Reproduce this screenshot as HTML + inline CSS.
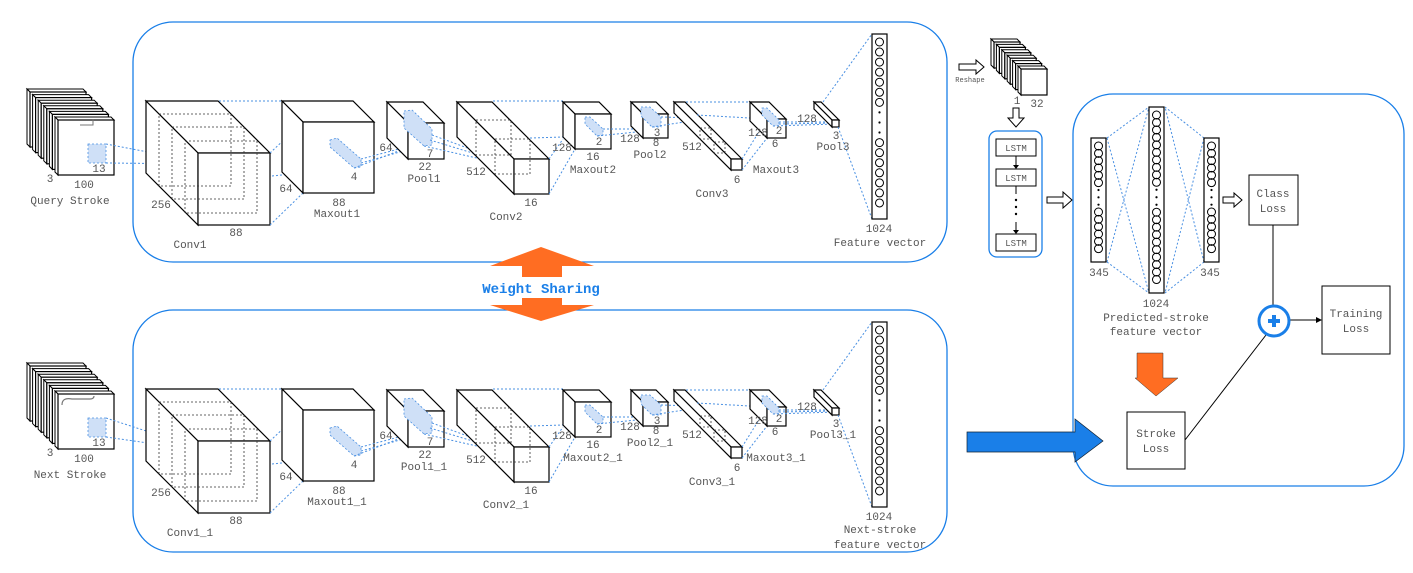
<!DOCTYPE html>
<html><head><meta charset="utf-8"><style>
html,body{margin:0;padding:0;background:#fff;}
svg text{font-family:"Liberation Mono",monospace;font-size:11px;fill:#555;}
</style></head><body>
<svg id="s" xmlns="http://www.w3.org/2000/svg" width="1413" height="568" viewBox="0 0 1413 568">
<rect width="1413" height="568" fill="#fff"/>
<g fill="none" stroke="#1a7fe8" stroke-width="1.3">
<rect x="133" y="22" width="814" height="240" rx="40"/>
<rect x="133" y="310" width="814" height="242" rx="40"/>
<rect x="1073" y="94" width="331" height="392" rx="40"/>
<rect x="989" y="131" width="53" height="126" rx="8"/>
</g>
<polygon points="541,247 594,266 562,266 562,277 522,277 522,266 490,266" fill="#ff6d22"/>
<polygon points="541,321 594,305 562,305 562,298 522,298 522,305 490,305" fill="#ff6d22"/>
<text x="541" y="293" text-anchor="middle" style="font-size:14px;font-weight:bold;fill:#1a7fe8">Weight Sharing</text>
<g id="dyn"></g>
<polygon points="959,64 976,64 976,60 984,67 976,74 976,70 959,70" fill="#fff" stroke="#000"/>
<text x="970" y="82" text-anchor="middle" style="font-size:7px">Reshape</text>
<polygon points="1013,108 1019,108 1019,118 1024,118 1016,127 1008,118 1013,118" fill="#fff" stroke="#000"/>
<g stroke="#000" fill="#fff">
<rect x="996" y="139" width="40" height="17"/><rect x="996" y="169" width="40" height="17"/><rect x="996" y="234" width="40" height="17"/>
</g>
<text x="1016" y="151" text-anchor="middle" style="font-size:9px">LSTM</text>
<text x="1016" y="181" text-anchor="middle" style="font-size:9px">LSTM</text>
<text x="1016" y="246" text-anchor="middle" style="font-size:9px">LSTM</text>
<g stroke="#000"><line x1="1016" y1="156" x2="1016" y2="166"/><line x1="1016" y1="186" x2="1016" y2="194"/><line x1="1016" y1="222" x2="1016" y2="231"/></g>
<g fill="#000"><polygon points="1013,165 1019,165 1016,169"/><polygon points="1013,230 1019,230 1016,234"/>
<circle cx="1016" cy="200" r="1.2"/><circle cx="1016" cy="207" r="1.2"/><circle cx="1016" cy="214" r="1.2"/></g>
<polygon points="1047,197 1063,197 1063,192 1072,200 1063,208 1063,203 1047,203" fill="#fff" stroke="#000"/>
<polygon points="1223,197 1234,197 1234,193 1242,200 1234,207 1234,203 1223,203" fill="#fff" stroke="#000"/>
<g stroke="#000" fill="#fff">
<rect x="1249" y="175" width="49" height="50"/>
<rect x="1322" y="286" width="68" height="68"/>
<rect x="1127" y="412" width="58" height="57"/>
</g>
<text x="1273" y="197" text-anchor="middle">Class</text><text x="1273" y="212" text-anchor="middle">Loss</text>
<text x="1356" y="317" text-anchor="middle">Training</text><text x="1356" y="332" text-anchor="middle">Loss</text>
<text x="1156" y="437" text-anchor="middle">Stroke</text><text x="1156" y="452" text-anchor="middle">Loss</text>
<g stroke="#000"><line x1="1273" y1="225" x2="1273" y2="306"/><line x1="1289" y1="320" x2="1318" y2="320"/><line x1="1185" y1="440" x2="1266" y2="335"/></g>
<polygon points="1316,317 1322,320 1316,323" fill="#000"/>
<circle cx="1274" cy="321" r="15" fill="#fff" stroke="#1a7fe8" stroke-width="3"/>
<path d="M1268 321h12M1274 315v12" stroke="#1a7fe8" stroke-width="4"/>
<polygon points="1137,353 1163,353 1163,378 1178,378 1156,396 1135,378 1137,378" fill="#ff6d22" stroke="#333" stroke-width="0.5"/>
<polygon points="967,432 1075,432 1075,419 1103,441 1075,462 1075,452 967,452" fill="#1a7fe8" stroke="#123" stroke-width="0.7"/>
<text x="1099" y="276" text-anchor="middle">345</text>
<text x="1210" y="276" text-anchor="middle">345</text>
<text x="1156" y="307" text-anchor="middle">1024</text>
<text x="1156" y="321" text-anchor="middle">Predicted-stroke</text>
<text x="1156" y="335" text-anchor="middle">feature vector</text>
</svg>
<script>
var G=document.getElementById("dyn"),out="";
function P(pts,fill,stroke,extra){out+='<polygon points="'+pts.map(p=>p.join(",")).join(" ")+'" fill="'+fill+'" stroke="'+stroke+'" '+(extra||'')+'/>';}
function L(x1,y1,x2,y2,c,d){out+='<line x1="'+x1+'" y1="'+y1+'" x2="'+x2+'" y2="'+y2+'" stroke="'+(c||"#4a90e2")+'" stroke-width="1" '+(d===0?'':'stroke-dasharray="2,2"')+'/>';}
function T(x,y,s,a){out+='<text x="'+x+'" y="'+y+'" text-anchor="'+(a||"middle")+'">'+s+'</text>';}
function cube(fx,fy,w,h,o){var bx=fx-o,by=fy-o;
 P([[bx,by],[bx+w,by],[fx+w,fy],[fx,fy]],"#fff","#000",'stroke-width="1.2"');
 P([[bx,by],[fx,fy],[fx,fy+h],[bx,by+h]],"#fff","#000",'stroke-width="1.2"');
 out+='<rect x="'+fx+'" y="'+fy+'" width="'+w+'" height="'+h+'" fill="#fff" stroke="#000" stroke-width="1.2"/>';}
function drect(x,y,w,h){out+='<rect x="'+x+'" y="'+y+'" width="'+w+'" height="'+h+'" fill="none" stroke="#333" stroke-width="0.8" stroke-dasharray="2,2"/>';}
function patch(pts){P(pts,"#cfe0f7","#4a90e2",'stroke-dasharray="2,2" stroke-width="0.8"');}
function vec(x,y,h,n){out+='<rect x="'+x+'" y="'+y+'" width="15" height="'+h+'" fill="#fff" stroke="#000" stroke-width="1.2"/>';
 var cx=x+7.5,step=(h-14)/(2*n+3),yy=y+8;
 for(var i=0;i<n;i++){out+='<circle cx="'+cx+'" cy="'+yy+'" r="4" fill="none" stroke="#000"/>';yy+=step;}
 for(var j=0;j<3;j++){out+='<circle cx="'+cx+'" cy="'+yy+'" r="1.1" fill="#000"/>';yy+=step;}
 for(var i=0;i<n;i++){out+='<circle cx="'+cx+'" cy="'+yy+'" r="4" fill="none" stroke="#000"/>';yy+=step;}}
function stack(x0,y0,w,h,n,st){for(var i=0;i<n;i++){var x=x0+i*st,y=y0+i*st;
 P([[x,y],[x+w-3,y],[x+w,y+3],[x+3,y+3]],"#fff","#000");
 P([[x,y],[x+3,y+3],[x+3,y+h],[x,y+h-3]],"#fff","#000");
 out+='<rect x="'+(x+3)+'" y="'+(y+3)+'" width="'+(w-3)+'" height="'+(h-3)+'" fill="#fff" stroke="#000" stroke-width="1.2"/>';}}
function row(dy,di,sfx,bottom){
 stack(27,89+di,59,58,6,5.6);
 var fy=117+di;
 if(!bottom){out+='<polyline points="80,125 93,125 93,119" fill="none" stroke="#777" stroke-width="1"/>';}
 else{out+='<path d="M62,'+(fy+14)+' q0,-8 10,-6 l18,0 q4,0 4,-3" fill="none" stroke="#777" stroke-width="1.2"/>';}
 patch([[88,fy+27],[106,fy+27],[106,fy+46],[88,fy+46]]);
 L(106,fy+27,211,164+dy);L(106,fy+46,211,164+dy);
 T(50,182+di,"3");T(84,188+di,"100");T(99,172+di,"13");
 T(70,204+di,bottom?"Next Stroke":"Query Stroke");
 var y=dy;
 cube(198,153+y,72,72,52);
 drect(159,114+y,72,72);drect(172,127+y,72,72);drect(185,141+y,72,72);
 L(219,101+y,282,101+y);L(270,153+y,303,122+y);L(270,225+y,303,193+y);L(272,176+y,301,173+y);
 cube(303,122+y,71,71,21);
 patch([[330,140+y],[337,138+y],[361,159+y],[361,167+y],[354,168+y],[330,147+y]]);
 L(361,159+y,414,145+y);L(354,168+y,414,145+y);L(361,163+y,414,148+y);
 cube(408,123+y,36,36,21);
 patch([[404,111+y],[412,110+y],[432,129+y],[432,145+y],[424,146+y],[404,128+y]]);
 L(432,135+y,525,169+y);L(424,146+y,525,169+y);L(430,140+y,525,169+y);
 cube(514,159+y,35,35,57);
 drect(476,120+y,35,35);drect(495,139+y,35,35);
 L(493,101+y,563,101+y);L(549,159+y,563,139+y);L(549,194+y,575,149+y);L(530,138+y,563,137+y);
 cube(575,114+y,36,35,12);
 patch([[585,117+y],[590,117+y],[603,129+y],[603,135+y],[597,136+y],[585,124+y]]);
 L(603,129+y,646,129+y);L(597,136+y,646,131+y);
 cube(643,114+y,25,24,12);
 patch([[641,107+y],[650,107+y],[661,117+y],[661,127+y],[652,127+y],[641,116+y]]);
 L(661,117+y,697,118+y);L(652,127+y,697,120+y);
 cube(731,159+y,11,11,57);
 drect(700,128+y,11,11);drect(714,142+y,11,11);
 L(686,102+y,750,102+y);L(697,115+y,767,119+y);L(742,159+y,767,119+y);L(742,170+y,767,138+y);
 cube(767,119+y,19,19,17);
 patch([[762,108+y],[767,108+y],[779,120+y],[779,126+y],[773,126+y],[762,115+y]]);
 L(779,122+y,835,122+y);L(773,126+y,835,124+y);L(779,124+y,835,123+y);
 cube(832,120+y,7,7,18);
 L(823,102+y,872,34+y);L(838,127+y,872,219+y);
 vec(872,34+y,185,7);
 T(190,248+y,"Conv1"+sfx);T(161,208+y,"256");T(236,236+y,"88");T(286,192+y,"64");
 T(339,206+y,"88");T(337,217+y,"Maxout1"+sfx);T(354,180+y,"4");
 T(386,151+y,"64");T(430,157+y,"7");T(425,170+y,"22");T(424,182+y,"Pool1"+sfx);
 T(476,175+y,"512");T(531,206+y,"16");T(506,220+y,"Conv2"+sfx);
 T(562,151+y,"128");T(599,145+y,"2");T(593,160+y,"16");T(593,173+y,"Maxout2"+sfx);
 T(630,142+y,"128");T(657,136+y,"3");T(656,146+y,"8");T(650,158+y,"Pool2"+sfx);
 T(692,150+y,"512");T(737,183+y,"6");T(712,197+y,"Conv3"+sfx);
 T(758,136+y,"128");T(779,134+y,"2");T(775,147+y,"6");T(776,173+y,"Maxout3"+sfx);
 T(807,122+y,"128");T(836,139+y,"3");T(833,150+y,"Pool3"+sfx);
 T(879,232+y,"1024");
 if(!bottom)T(880,246,"Feature vector");
 else{T(880,533,"Next-stroke");T(880,548,"feature vector");}
}
row(0,0,"",false);
row(288,274,"_1",true);
stack(991,39,29,29,6,5.4);
T(1017,104,"1");T(1037,107,"32");
var lx=1091,mx=1149,rx=1204;
L(lx+16,138,mx,107);L(lx+16,262,mx,293);L(lx+16,138,mx,293);L(lx+16,262,mx,107);
L(rx,138,mx+16,107);L(rx,262,mx+16,293);L(rx,138,mx+16,293);L(rx,262,mx+16,107);
vec(lx,138,124,6);vec(mx,107,186,10);vec(rx,138,124,6);
G.outerHTML=out;
</script>
</body></html>
